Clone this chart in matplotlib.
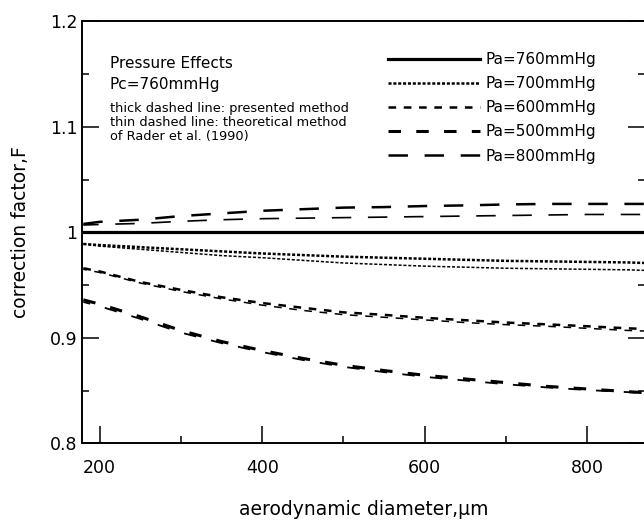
import matplotlib
matplotlib.use("Agg")
import matplotlib.pyplot as plt
from matplotlib.ticker import MultipleLocator

plt.rcParams['lines.scale_dashes'] = False

# aerodynamic diameter (um)
diameter = [180, 200, 250, 300, 350, 400, 450, 500, 550, 600, 650, 700, 750, 800, 850, 870]

# correction factor F, thick = presented method, thin = Rader et al. (1990)
f760 = [1.0, 1.0, 1.0, 1.0, 1.0, 1.0, 1.0, 1.0, 1.0, 1.0, 1.0, 1.0, 1.0, 1.0, 1.0, 1.0]
f700_thick = [0.989, 0.988, 0.986, 0.984, 0.982, 0.980, 0.9785, 0.977, 0.976, 0.975,
              0.974, 0.973, 0.9725, 0.972, 0.9715, 0.971]
f700_thin = [0.989, 0.987, 0.984, 0.981, 0.978, 0.976, 0.9735, 0.971, 0.9695, 0.968,
             0.967, 0.966, 0.9655, 0.965, 0.9645, 0.964]
f600_thick = [0.966, 0.963, 0.953, 0.9455, 0.9385, 0.933, 0.9285, 0.9242, 0.9218, 0.919,
              0.9167, 0.9145, 0.9128, 0.911, 0.909, 0.9085]
f600_thin = [0.965, 0.962, 0.952, 0.944, 0.937, 0.931, 0.926, 0.922, 0.9195, 0.917,
             0.9145, 0.9125, 0.911, 0.909, 0.907, 0.9065]
f500_thick = [0.936, 0.932, 0.920, 0.907, 0.8965, 0.888, 0.8805, 0.874, 0.869, 0.8645,
              0.861, 0.8575, 0.854, 0.8515, 0.849, 0.848]
f500_thin = [0.934, 0.930, 0.918, 0.905, 0.895, 0.8865, 0.879, 0.8725, 0.8675, 0.863,
             0.8595, 0.856, 0.853, 0.8505, 0.8485, 0.8475]
f800_thick = [1.008, 1.010, 1.012, 1.0155, 1.018, 1.0205, 1.022, 1.0235, 1.024, 1.025,
              1.0256, 1.0265, 1.027, 1.027, 1.027, 1.027]
f800_thin = [1.007, 1.0075, 1.0085, 1.0105, 1.012, 1.013, 1.0135, 1.014, 1.0145, 1.015,
             1.0155, 1.016, 1.0165, 1.017, 1.017, 1.017]

fig = plt.figure(figsize=(6.44, 5.23), dpi=100)
ax = fig.add_axes([0.1269, 0.1524, 0.8747, 0.8065])

# line styles (dash patterns in points)
ls700 = (0, (2.2, 1.3))
ls600 = (0, (5.5, 5.5))
ls500 = (0, (9, 11))
ls800 = (0, (14, 12))

ax.plot(diameter, f760, color='black', lw=2.3, label='Pa=760mmHg')
ax.plot(diameter, f700_thick, color='black', lw=1.8, linestyle=ls700, label='Pa=700mmHg')
ax.plot(diameter, f700_thin, color='black', lw=1.1, linestyle=ls700)
ax.plot(diameter, f600_thick, color='black', lw=1.8, linestyle=ls600, label='Pa=600mmHg')
ax.plot(diameter, f600_thin, color='black', lw=1.1, linestyle=(3, (5.5, 5.5)))
ax.plot(diameter, f500_thick, color='black', lw=2.2, linestyle=ls500, label='Pa=500mmHg')
ax.plot(diameter, f500_thin, color='black', lw=1.3, linestyle=(4, (9, 11)))
ax.plot(diameter, f800_thick, color='black', lw=1.8, linestyle=ls800, label='Pa=800mmHg')
ax.plot(diameter, f800_thin, color='black', lw=1.2, linestyle=(3, (14, 12)))

ax.set_xlim(178, 871)
ax.set_ylim(0.8, 1.2)
ax.xaxis.set_major_locator(MultipleLocator(200))
ax.xaxis.set_minor_locator(MultipleLocator(100))
ax.yaxis.set_major_locator(MultipleLocator(0.1))
ax.yaxis.set_minor_locator(MultipleLocator(0.05))
ax.set_yticks([0.8, 0.9, 1.0, 1.1, 1.2])
ax.set_yticklabels(['0.8', '0.9', '1', '1.1', '1.2'])

ax.tick_params(which='both', direction='in', right=True, top=False, width=1.1)
ax.tick_params(which='major', length=12, labelsize=12.5)
ax.tick_params(which='minor', length=5)
ax.tick_params(axis='x', which='major', pad=11)
ax.tick_params(axis='y', which='major', pad=3)
for s in ax.spines.values():
    s.set_linewidth(1.4)

ax.set_xlabel('aerodynamic diameter,\u00b5m', fontsize=13.5, labelpad=17)
ax.set_ylabel('correction factor,F', fontsize=13.5, labelpad=14)

ax.text(0.050, 0.9016, 'Pressure Effects', transform=ax.transAxes, fontsize=11, va='center')
ax.text(0.050, 0.8495, 'Pc=760mmHg', transform=ax.transAxes, fontsize=11, va='center')
ax.text(0.050, 0.7949, 'thick dashed line: presented method', transform=ax.transAxes,
        fontsize=9.3, va='center')
ax.text(0.050, 0.7594, 'thin dashed line: theoretical method', transform=ax.transAxes,
        fontsize=9.3, va='center')
ax.text(0.050, 0.7262, 'of Rader et al. (1990)', transform=ax.transAxes,
        fontsize=9.3, va='center')

ax.legend(loc='upper left', bbox_to_anchor=(0.5437, 0.928), frameon=False,
          fontsize=11, handlelength=6.0, handletextpad=0.35, labelspacing=0.6,
          borderpad=0, borderaxespad=0)

fig.savefig('out.png', dpi=100)
